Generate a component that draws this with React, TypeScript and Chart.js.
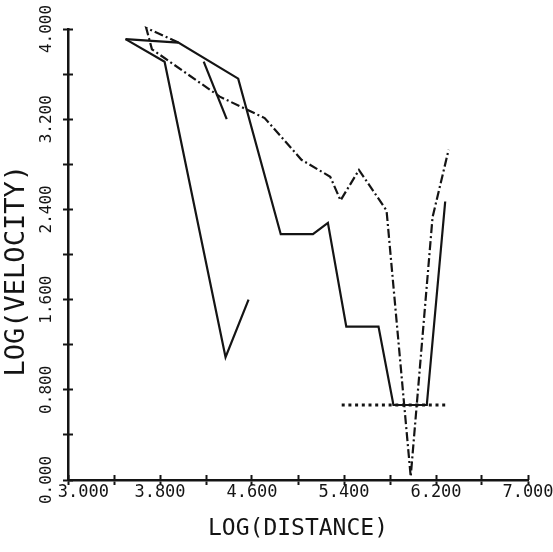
import { useEffect, useRef } from 'react';
import { Chart, registerables } from 'chart.js';

Chart.register(...registerables);

// Axis tick labels (every other tick carries a label)
const xTickLabels = ['3.000', '3.800', '4.600', '5.400', '6.200', '7.000'];
const yTickLabels = ['0.000', '0.800', '1.600', '2.400', '3.200', '4.000'];

// Solid curve that drops steeply on the left
const curveAX = [3.50, 3.84, 4.37, 4.57];
const curveAY = [3.91, 3.71, 1.09, 1.60];

// Solid stepped curve
const curveBX = [3.50, 3.96, 4.48, 4.85, 5.13, 5.26, 5.42, 5.70, 5.83, 6.12, 6.28];
const curveBY = [3.91, 3.88, 3.56, 2.18, 2.18, 2.28, 1.36, 1.36, 0.665, 0.665, 2.47];

// Short solid segment
const curveCX = [4.18, 4.38];
const curveCY = [3.71, 3.20];

// Dash-dot curve
const curveDX = [3.96, 3.68, 3.73, 4.32, 4.71, 5.03, 5.28, 5.37, 5.53, 5.77, 5.98, 6.17, 6.31];
const curveDY = [3.88, 4.01, 3.82, 3.40, 3.21, 2.84, 2.69, 2.48, 2.75, 2.39, 0.03, 2.33, 2.93];

// Dotted level line
const levelX = [5.38, 6.30];
const levelY = [0.665, 0.665];

const INK = '#141414';
const MONO = '"DejaVu Sans Mono", monospace';

const toPoints = (xs: number[], ys: number[]) => xs.map((x, i) => ({ x, y: ys[i] }));

export default function App() {
  const canvasRef = useRef<HTMLCanvasElement>(null);

  useEffect(() => {
    if (!canvasRef.current) return;

    const lineBase = {
      borderColor: INK,
      backgroundColor: INK,
      borderWidth: 2.2,
      pointRadius: 0,
      pointHoverRadius: 0,
      showLine: true,
      fill: false,
      tension: 0,
      clip: 4,
    };

    const tickGrid = (len: number) => ({
      display: true,
      drawOnChartArea: false,
      drawTicks: true,
      tickLength: len,
      tickWidth: 2,
      tickColor: INK,
      color: INK,
    });

    const chart = new Chart(canvasRef.current, {
      type: 'scatter',
      data: {
        datasets: [
          { ...lineBase, data: toPoints(curveAX, curveAY) },
          { ...lineBase, data: toPoints(curveBX, curveBY) },
          { ...lineBase, data: toPoints(curveCX, curveCY) },
          { ...lineBase, borderDash: [9, 3, 2, 3], data: toPoints(curveDX, curveDY) },
          { ...lineBase, borderWidth: 3, borderDash: [3, 3.7], data: toPoints(levelX, levelY) },
        ],
      },
      options: {
        responsive: false,
        animation: false,
        events: [],
        layout: { padding: { left: 0, right: 25, top: 29, bottom: 0 } },
        plugins: {
          legend: { display: false },
          tooltip: { enabled: false },
        },
        scales: {
          x: {
            type: 'linear',
            position: 'bottom',
            min: 3,
            max: 7,
            weight: 1,
            ticks: {
              stepSize: 0.4,
              autoSkip: false,
              minRotation: 0,
              maxRotation: 0,
              padding: -3,
              color: INK,
              font: { family: MONO, size: 17 },
              callback: (_v: any, i: number) =>
                i % 2 ? '' : (i === 0 ? '   ' : '') + xTickLabels[i / 2],
            },
            grid: tickGrid(5),
            border: { display: true, color: INK, width: 2.5 },
            title: {
              display: true,
              text: 'LOG(DISTANCE)',
              color: INK,
              font: { family: MONO, size: 23 },
              padding: { top: 0, bottom: 9 },
            },
            afterFit: (s: any) => {
              s.height = 72;
              s.paddingLeft = 0;
              s.paddingRight = 0;
            },
          },
          xInner: {
            type: 'linear',
            position: 'bottom',
            min: 3,
            max: 7,
            weight: 0,
            ticks: { display: false, stepSize: 0.4, autoSkip: false },
            grid: tickGrid(-5),
            border: { display: false },
            afterFit: (s: any) => {
              s.height = 0;
              s.paddingLeft = 0;
              s.paddingRight = 0;
            },
          },
          y: {
            type: 'linear',
            position: 'left',
            min: 0,
            max: 4,
            weight: 1,
            ticks: {
              stepSize: 0.4,
              autoSkip: false,
              minRotation: 90,
              maxRotation: 90,
              crossAlign: 'center',
              padding: -8,
              color: INK,
              font: { family: MONO, size: 16 },
              callback: (_v: any, i: number) => (i % 2 ? '' : yTickLabels[i / 2]),
            },
            grid: tickGrid(5),
            border: { display: true, color: INK, width: 2.5 },
            title: {
              display: true,
              text: 'LOG(VELOCITY)  ',
              color: INK,
              font: { family: MONO, size: 27 },
              padding: { top: 1, bottom: 0 },
            },
            afterFit: (s: any) => {
              s.width = 68;
              s.paddingTop = 0;
              s.paddingBottom = 0;
            },
          },
          yInner: {
            type: 'linear',
            position: 'left',
            min: 0,
            max: 4,
            weight: 0,
            ticks: { display: false, stepSize: 0.4, autoSkip: false },
            grid: tickGrid(-5),
            border: { display: false },
            afterFit: (s: any) => {
              s.width = 0;
              s.paddingTop = 0;
              s.paddingBottom = 0;
            },
          },
        },
      } as any,
    });

    return () => chart.destroy();
  }, []);

  return (
    <div style={{ position: 'absolute', left: 0, top: 0, width: 553, height: 552, background: '#fff' }}>
      <canvas ref={canvasRef} width={553} height={552} style={{ display: 'block' }} />
    </div>
  );
}
